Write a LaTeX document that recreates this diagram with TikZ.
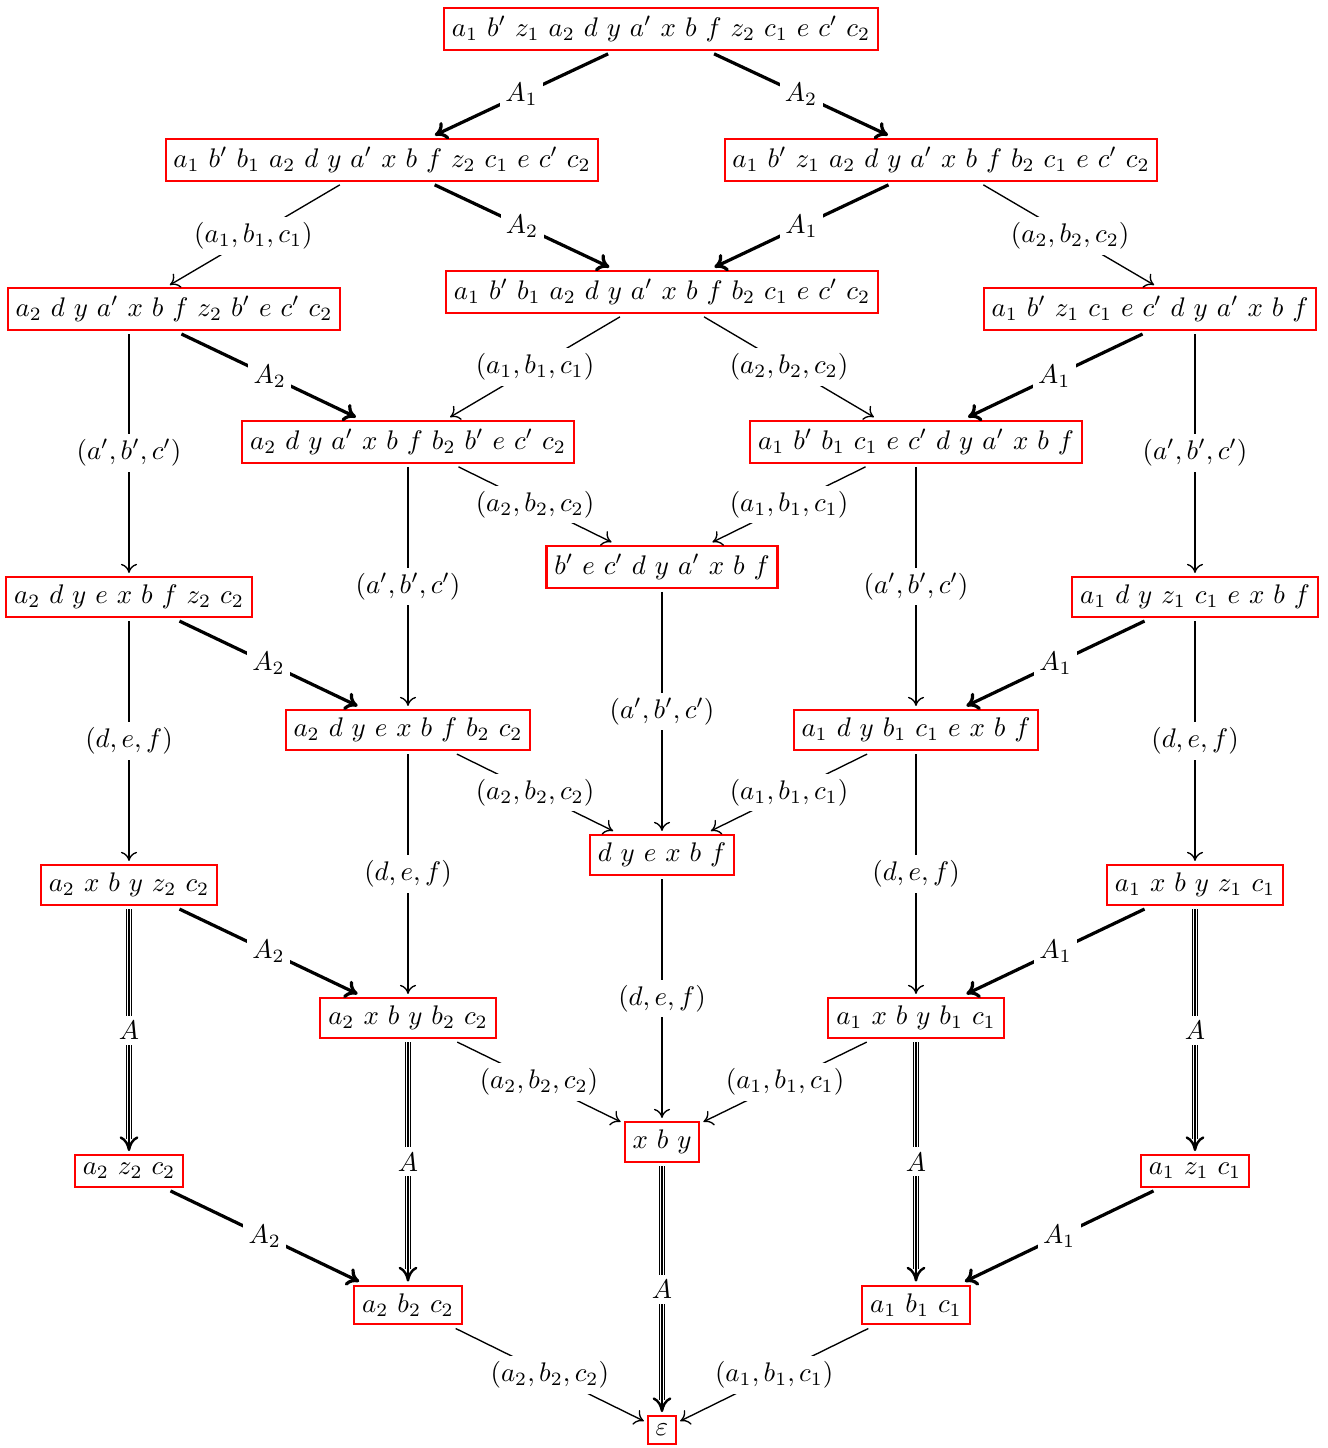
\documentclass[tikz,border=0pt]{standalone}
\usetikzlibrary{arrows.meta}
\begin{document}
\begin{tikzpicture}[x=0.3717pt,y=-0.3717pt,
  box/.style={draw=red, line width=0.75pt, inner xsep=2.9pt, inner ysep=3pt, outer sep=1.5pt},
  lab/.style={fill=white, inner sep=2pt},
  thk/.style={line width=1.2pt, -{To[length=4.5pt,width=7pt]}},
  thn/.style={line width=0.5pt, -{To[length=3.4pt,width=6pt]}},
  trio/.style={double, double distance=1.3pt, line width=0.5pt, shorten >=4.5pt},
  trim/.style={line width=0.5pt, -{To[length=5.5pt,width=7pt,line width=0.9pt]}},
]
\useasboundingbox (0,0) rectangle (1328,1448);

% nodes
\node[box] (N0)  at (661,29)   {$a_1\ b'\ z_1\ a_2\ d\ y\ a'\ x\ b\ f\ z_2\ c_1\ e\ c'\ c_2$};
\node[box] (L1)  at (382,160)  {$a_1\ b'\ b_1\ a_2\ d\ y\ a'\ x\ b\ f\ z_2\ c_1\ e\ c'\ c_2$};
\node[box] (R1)  at (941,160)  {$a_1\ b'\ z_1\ a_2\ d\ y\ a'\ x\ b\ f\ b_2\ c_1\ e\ c'\ c_2$};
\node[box] (M2)  at (662,292)  {$a_1\ b'\ b_1\ a_2\ d\ y\ a'\ x\ b\ f\ b_2\ c_1\ e\ c'\ c_2$};
\node[box] (LL2) at (174,309)  {$a_2\ d\ y\ a'\ x\ b\ f\ z_2\ b'\ e\ c'\ c_2$};
\node[box] (RR2) at (1150,309) {$a_1\ b'\ z_1\ c_1\ e\ c'\ d\ y\ a'\ x\ b\ f$};
\node[box] (L3)  at (408,442)  {$a_2\ d\ y\ a'\ x\ b\ f\ b_2\ b'\ e\ c'\ c_2$};
\node[box] (R3)  at (916,442)  {$a_1\ b'\ b_1\ c_1\ e\ c'\ d\ y\ a'\ x\ b\ f$};
\node[box] (M4)  at (662,567)  {$b'\ e\ c'\ d\ y\ a'\ x\ b\ f$};
\node[box] (LL4) at (129,597)  {$a_2\ d\ y\ e\ x\ b\ f\ z_2\ c_2$};
\node[box] (RR4) at (1195,597) {$a_1\ d\ y\ z_1\ c_1\ e\ x\ b\ f$};
\node[box] (L5)  at (408,730)  {$a_2\ d\ y\ e\ x\ b\ f\ b_2\ c_2$};
\node[box] (R5)  at (916,730)  {$a_1\ d\ y\ b_1\ c_1\ e\ x\ b\ f$};
\node[box] (M6)  at (662,855)  {$d\ y\ e\ x\ b\ f$};
\node[box] (LL6) at (129,885)  {$a_2\ x\ b\ y\ z_2\ c_2$};
\node[box] (RR6) at (1195,885) {$a_1\ x\ b\ y\ z_1\ c_1$};
\node[box] (L7)  at (408,1018) {$a_2\ x\ b\ y\ b_2\ c_2$};
\node[box] (R7)  at (916,1018) {$a_1\ x\ b\ y\ b_1\ c_1$};
\node[box] (M8)  at (662,1142) {$x\ b\ y$};
\node[box] (LL8) at (129,1171) {$a_2\ z_2\ c_2$};
\node[box] (RR8) at (1195,1171) {$a_1\ z_1\ c_1$};
\node[box] (L9)  at (408,1305) {$a_2\ b_2\ c_2$};
\node[box] (R9)  at (916,1305) {$a_1\ b_1\ c_1$};
\node[box] (E)   at (662,1430) {$\varepsilon$};

\coordinate (ll2) at (LL2.center -| LL4.center);
\coordinate (rr2) at (RR2.center -| RR4.center);

% edges
\draw[thk] (N0) -- node[lab]{$A_1$} (L1);
\draw[thk] (N0) -- node[lab]{$A_2$} (R1);

\draw[thn, shorten >=17.6pt] (L1) -- node[lab, pos=0.41]{$(a_1,b_1,c_1)$} (ll2);
\draw[thk] (L1) -- node[lab]{$A_2$} (M2);
\draw[thk] (R1) -- node[lab]{$A_1$} (M2);
\draw[thn, shorten >=17.6pt] (R1) -- node[lab, pos=0.41]{$(a_2,b_2,c_2)$} (rr2);

\draw[thn, shorten <=9.3pt] (ll2) -- node[lab, pos=0.545]{$(a',b',c')$} (LL4);
\draw[thk, shorten <=21.6pt] (ll2) -- node[lab, pos=0.62]{$A_2$} (L3);
\draw[thn] (M2) -- node[lab]{$(a_1,b_1,c_1)$} (L3);
\draw[thn] (M2) -- node[lab]{$(a_2,b_2,c_2)$} (R3);
\draw[thk, shorten <=21.6pt] (rr2) -- node[lab, pos=0.62]{$A_1$} (R3);
\draw[thn, shorten <=9.3pt] (rr2) -- node[lab, pos=0.545]{$(a',b',c')$} (RR4);

\draw[thn] (L3) -- node[lab]{$(a_2,b_2,c_2)$} (M4);
\draw[thn] (R3) -- node[lab]{$(a_1,b_1,c_1)$} (M4);
\draw[thn] (L3) -- node[lab]{$(a',b',c')$} (L5);
\draw[thn] (R3) -- node[lab]{$(a',b',c')$} (R5);

\draw[thk] (LL4) -- node[lab]{$A_2$} (L5);
\draw[thk] (RR4) -- node[lab]{$A_1$} (R5);
\draw[thn] (LL4) -- node[lab]{$(d,e,f)$} (LL6);
\draw[thn] (RR4) -- node[lab]{$(d,e,f)$} (RR6);
\draw[thn] (M4) -- node[lab]{$(a',b',c')$} (M6);

\draw[thn] (L5) -- node[lab]{$(a_2,b_2,c_2)$} (M6);
\draw[thn] (R5) -- node[lab]{$(a_1,b_1,c_1)$} (M6);
\draw[thn] (L5) -- node[lab]{$(d,e,f)$} (L7);
\draw[thn] (R5) -- node[lab]{$(d,e,f)$} (R7);

\draw[thk] (LL6) -- node[lab]{$A_2$} (L7);
\draw[thk] (RR6) -- node[lab]{$A_1$} (R7);
\draw[trio] (LL6) -- (LL8);
\draw[trim] (LL6) -- node[lab]{$A$} (LL8);
\draw[trio] (RR6) -- (RR8);
\draw[trim] (RR6) -- node[lab]{$A$} (RR8);
\draw[thn] (M6) -- node[lab]{$(d,e,f)$} (M8);

\draw[thn] (L7) -- node[lab]{$(a_2,b_2,c_2)$} (M8);
\draw[thn] (R7) -- node[lab]{$(a_1,b_1,c_1)$} (M8);
\draw[trio] (L7) -- (L9);
\draw[trim] (L7) -- node[lab]{$A$} (L9);
\draw[trio] (R7) -- (R9);
\draw[trim] (R7) -- node[lab]{$A$} (R9);

\draw[thk] (LL8) -- node[lab]{$A_2$} (L9);
\draw[thk] (RR8) -- node[lab]{$A_1$} (R9);
\draw[trio] (M8) -- (E);
\draw[trim] (M8) -- node[lab]{$A$} (E);

\draw[thn] (L9) -- node[lab]{$(a_2,b_2,c_2)$} (E);
\draw[thn] (R9) -- node[lab]{$(a_1,b_1,c_1)$} (E);
\end{tikzpicture}
\end{document}
